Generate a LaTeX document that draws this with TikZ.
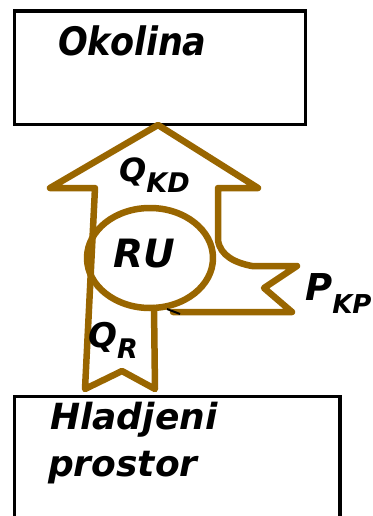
\documentclass[tikz,border=0pt]{standalone}
\usepackage{fontspec}
\setmainfont{DejaVu Sans}
\definecolor{arrowbrown}{RGB}{153,102,0}
\tikzset{
  flow/.style={draw=arrowbrown,line width=6.5pt,line join=round,line cap=round},
  boxline/.style={draw=black,line width=3.5pt},
  lbl/.style={inner sep=0pt,anchor=base west},
  big/.style={font=\fontsize{36}{40}\selectfont\bfseries\itshape},
}
\begin{document}
\begin{tikzpicture}[x=1pt,y=-1pt]
\path[use as bounding box,clip] (0,0) rectangle (372,516);
% boxes
\draw[boxline] (14.5,11) rectangle (305.5,124.5);
\draw[boxline] (14.5,396.5) rectangle (340,540);
% main flow outline
\draw[flow] (154,308) -- (155,389) -- (122,371) -- (85,389) -- (95,188) -- (50,188)
  -- (158,125) -- (258,188) -- (218,188) -- (218,240)
  .. controls (220,256) and (236,263) .. (252,266) -- (297,266) -- (264,288)
  -- (292,312) -- (173,312);
\draw[flow] (150,258) ellipse [x radius=63pt,y radius=50pt];
\draw[line width=2pt] (167,309) -- (180,314);
% labels
\node[lbl,font=\fontsize{35}{40}\selectfont\bfseries\itshape,yscale=1.12] (okolina) at (58,56) {Okolina};
\node[lbl,big] (hl1) at (50,429) {Hladjeni};
\node[lbl,big] (hl2) at (48,476) {prostor};
\node[lbl,font=\fontsize{39}{44}\selectfont\bfseries\itshape] (ru) at (113,267) {RU};
\node[lbl,font=\fontsize{32}{36}\selectfont\bfseries\itshape] (qkd) at (119,181)
  {Q\raisebox{-11pt}{\fontsize{27}{28}\selectfont KD}};
\node[lbl,font=\fontsize{34}{38}\selectfont\bfseries\itshape] (qr) at (88,347)
  {Q\raisebox{-11pt}{\fontsize{27}{28}\selectfont R}};
\node[lbl,font=\fontsize{37}{40}\selectfont\bfseries\itshape] (pkp) at (305,300)
  {P\raisebox{-13pt}{\fontsize{26}{28}\selectfont KP}};
\end{tikzpicture}
\end{document}
